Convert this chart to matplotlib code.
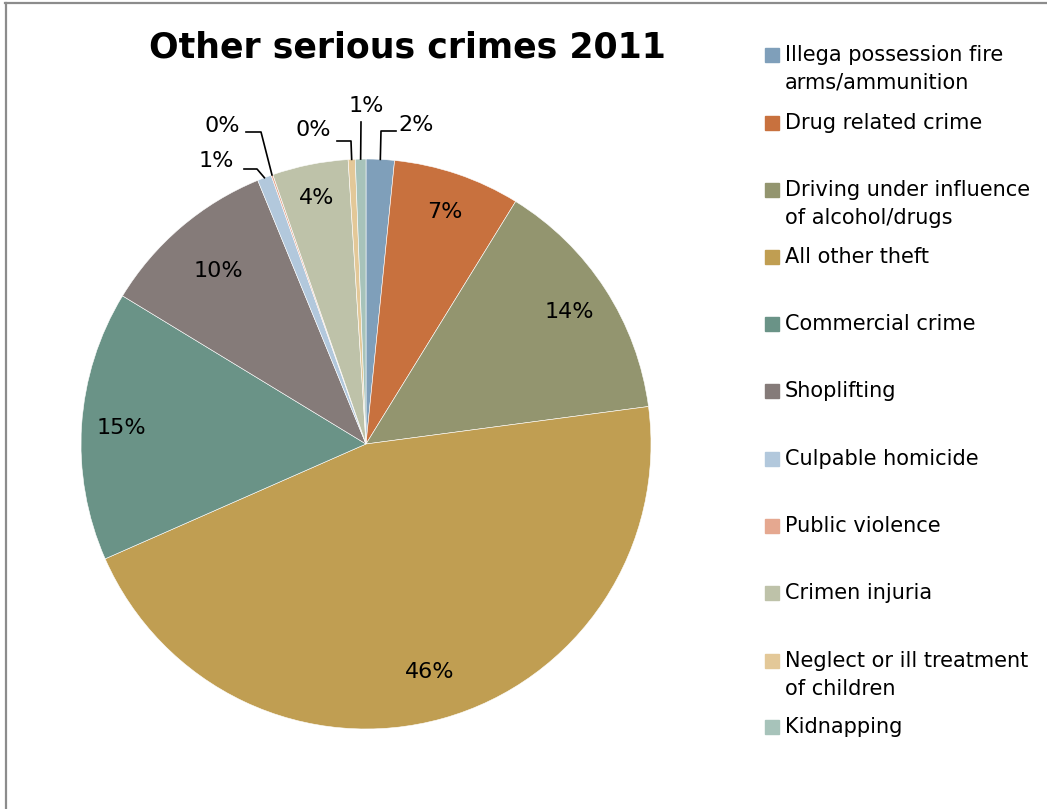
import matplotlib.pyplot as plt
from matplotlib.lines import Line2D
from matplotlib.patches import Rectangle
import numpy as np

plt.rcParams['font.family'] = ['DejaVu Sans']

crimes = ["Illega possession fire\narms/ammunition", "Drug related crime",
          "Driving under influence\nof alcohol/drugs", "All other theft",
          "Commercial crime", "Shoplifting", "Culpable homicide",
          "Public violence", "Crimen injuria",
          "Neglect or ill treatment\nof children", "Kidnapping"]
share = [1.6, 7.2, 14.1, 45.5, 15.3, 10.1, 0.8, 0.1, 4.3, 0.4, 0.6]
colours = ["#7f9fba", "#c8713e", "#93956f", "#c09e52", "#6a9387", "#857b79",
           "#b2c8dc", "#e5a890", "#bec2a9", "#e3c898", "#a7c3ba"]

W, H = 1047, 809
fig = plt.figure(figsize=(W / 100, H / 100), dpi=100)

# pie axes: centre (366, 444) px, radius 285 px
cx, cy, R = 366, 444, 285
ax = fig.add_axes([(cx - R) / W, (H - cy - R) / H, 2 * R / W, 2 * R / H])
wedges, _ = ax.pie(share, colors=colours, startangle=90, counterclock=False,
                   radius=1, wedgeprops=dict(edgecolor="white", linewidth=0.4))
ax.set_xlim(-1, 1)
ax.set_ylim(-1, 1)
ax.set_aspect("equal")
ax.axis("off")

total = sum(share)
pcts = ["%.0f%%" % (v / total * 100) for v in share]

# labels inside the larger slices
inside = {1: 0.86, 2: 0.85, 3: 0.83, 4: 0.86, 5: 0.80, 8: 0.88}
for i, dist in inside.items():
    w = wedges[i]
    a = np.deg2rad((w.theta1 + w.theta2) / 2)
    ax.text(dist * np.cos(a), dist * np.sin(a), pcts[i], ha="center",
            va="center", fontsize=16)

# small slices: text position, elbow and end of leader line (pixels)
def d(px, py):
    return (px - cx) / R, (cy - py) / R

outside = {
    0: ((416, 125), (381, 131), (396, 131)),
    10: ((366, 106), (361, 122), (361, 122)),
    9: ((313, 130), (351, 141), (337, 141)),
    7: ((222, 126), (261, 132), (246, 132)),
    6: ((216, 161), (257, 169), (244, 169)),
}
for i, (tpos, elbow, end) in outside.items():
    w = wedges[i]
    a = np.deg2rad((w.theta1 + w.theta2) / 2)
    ex, ey = d(*elbow)
    nx, ny = d(*end)
    ax.plot([np.cos(a), ex, nx], [np.sin(a), ey, ny], color="black",
            lw=1.2, clip_on=False)
    tx, ty = d(*tpos)
    ax.text(tx, ty, pcts[i], ha="center", va="center", fontsize=16)

fig.text(407 / W, 1 - 48 / H, "Other serious crimes 2011", ha="center",
         va="center", fontsize=25, fontweight="bold")

# legend entries: first-line y of each entry in pixels, 28 px per extra line
legend_y = [55, 123, 190, 257, 324, 391, 459, 526, 593, 661, 727]
for name, col, y in zip(crimes, colours, legend_y):
    fig.patches.append(Rectangle((765 / W, 1 - (y + 7) / H), 14 / W, 14 / H,
                                 transform=fig.transFigure, color=col))
    for k, line in enumerate(name.split("\n")):
        fig.text(785 / W, 1 - (y + 28 * k) / H, line, ha="left",
                 va="center", fontsize=15)

# frame lines along the top and left edges
fig.add_artist(Line2D([5 / W, 1], [1 - 3 / H, 1 - 3 / H], color="#8c8c8c", lw=1.6))
fig.add_artist(Line2D([6 / W, 6 / W], [0, 1 - 3 / H], color="#8c8c8c", lw=1.6))

fig.savefig("out.png", dpi=100, facecolor="white")
